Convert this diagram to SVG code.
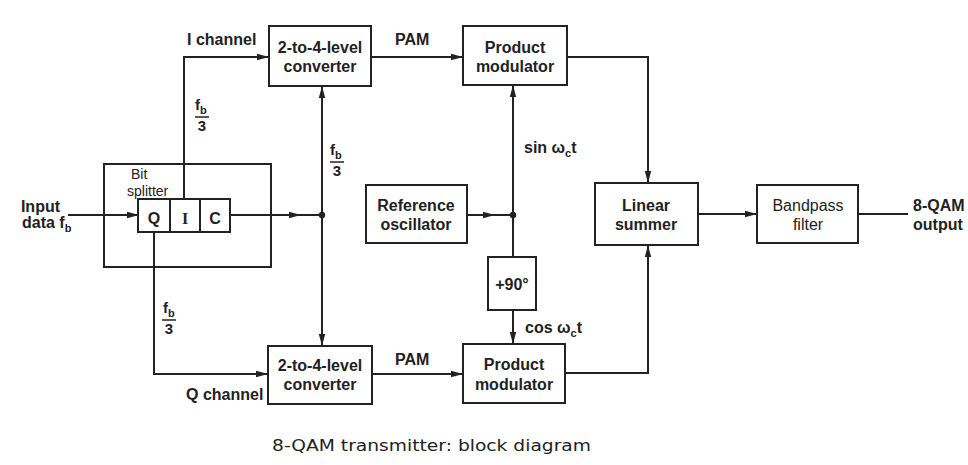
<svg xmlns="http://www.w3.org/2000/svg" width="968" height="465" viewBox="0 0 968 465">
<style>
.box{fill:none;stroke:#222;stroke-width:2}
.ln{fill:none;stroke:#222;stroke-width:2}
.t{font-family:"Liberation Sans",Arial,sans-serif;font-size:16px;font-weight:bold;fill:#222}
.r{font-family:"Liberation Sans",Arial,sans-serif;font-size:16px;fill:#222}
.c{text-anchor:middle}
.sub{font-size:11px}
.dot{fill:#222}
</style>
<defs>
<marker id="ah" viewBox="0 0 12 8" refX="11" refY="4" markerWidth="12" markerHeight="8" markerUnits="userSpaceOnUse" orient="auto">
<path d="M0,0.8 L12,4 L0,7.2 Z" fill="#222"/>
</marker>
</defs>
<rect width="968" height="465" fill="#fff"/>

<g id="connectors">
<line class="ln" x1="68" y1="215" x2="138" y2="215" marker-end="url(#ah)"/>
<polyline class="ln" points="184,199 184,57 268,57" marker-end="url(#ah)"/>
<polyline class="ln" points="154,232 154,374 267,374" marker-end="url(#ah)"/>
<line class="ln" x1="230" y1="215" x2="300" y2="215" marker-end="url(#ah)"/>
<line class="ln" x1="299" y1="215" x2="322" y2="215"/>
<line class="ln" x1="322" y1="215" x2="322" y2="87" marker-end="url(#ah)"/>
<line class="ln" x1="322" y1="215" x2="322" y2="345" marker-end="url(#ah)"/>
<line class="ln" x1="371" y1="57" x2="462" y2="57" marker-end="url(#ah)"/>
<line class="ln" x1="372" y1="374" x2="462" y2="374" marker-end="url(#ah)"/>
<line class="ln" x1="467" y1="215" x2="494" y2="215" marker-end="url(#ah)"/>
<line class="ln" x1="493" y1="215" x2="513" y2="215"/>
<line class="ln" x1="513" y1="215" x2="513" y2="86" marker-end="url(#ah)"/>
<line class="ln" x1="513" y1="215" x2="513" y2="257"/>
<line class="ln" x1="513" y1="310" x2="513" y2="343" marker-end="url(#ah)"/>
<polyline class="ln" points="567,57 648,57 648,182" marker-end="url(#ah)"/>
<polyline class="ln" points="565,373 648,373 648,246" marker-end="url(#ah)"/>
<line class="ln" x1="698" y1="214" x2="756" y2="214" marker-end="url(#ah)"/>
<line class="ln" x1="858" y1="214" x2="908" y2="214"/>
<circle class="dot" cx="322" cy="215" r="3.2"/>
<circle class="dot" cx="513" cy="215" r="3.2"/>
</g>

<g id="input-label">
<text class="t" x="60" y="212" text-anchor="end">Input</text>
<text class="t" x="22" y="228">data f<tspan class="sub" dy="4">b</tspan></text>
</g>

<g id="bit-splitter">
<rect class="box" x="104" y="164" width="167" height="103"/>
<text class="r" x="131" y="179" style="font-size:14px">Bit</text>
<text class="r" x="127" y="196" style="font-size:14px">splitter</text>
<rect class="box" x="138" y="199" width="92" height="33"/>
<line class="ln" x1="170" y1="199" x2="170" y2="232"/>
<line class="ln" x1="200" y1="199" x2="200" y2="232"/>
<text class="t c" x="154" y="224">Q</text>
<text class="c" x="185" y="224" style="font-family:'Liberation Serif',serif;font-size:16px;font-weight:bold;fill:#222">I</text>
<text class="t c" x="215" y="224">C</text>
</g>

<g id="labels">
<text class="t" x="187" y="45">I channel</text>
<text class="t" x="186" y="400">Q channel</text>
<text class="t" x="395" y="45">PAM</text>
<text class="t" x="395" y="365">PAM</text>
<text class="t" x="195" y="110" style="font-size:15px">f<tspan class="sub" dy="4">b</tspan></text>
<line class="ln" x1="195" y1="117" x2="209" y2="117" style="stroke-width:1.5"/>
<text class="t c" x="202" y="131" style="font-size:15px">3</text>
<text class="t" x="330" y="155" style="font-size:15px">f<tspan class="sub" dy="4">b</tspan></text>
<line class="ln" x1="330" y1="162" x2="344" y2="162" style="stroke-width:1.5"/>
<text class="t c" x="337" y="176" style="font-size:15px">3</text>
<text class="t" x="163" y="313" style="font-size:15px">f<tspan class="sub" dy="4">b</tspan></text>
<line class="ln" x1="162" y1="320" x2="176" y2="320" style="stroke-width:1.5"/>
<text class="t c" x="169" y="334" style="font-size:15px">3</text>
<text class="t" x="524" y="153">sin ω<tspan class="sub" dy="4">c</tspan><tspan dy="-4">t</tspan></text>
<text class="t" x="525" y="333">cos ω<tspan class="sub" dy="4">c</tspan><tspan dy="-4">t</tspan></text>
<text class="t" x="913" y="211">8-QAM</text>
<text class="t" x="913" y="230">output</text>
</g>

<g id="converter-i">
<rect class="box" x="269" y="26" width="102" height="60"/>
<text class="t c" x="320" y="53">2-to-4-level</text>
<text class="t c" x="320" y="72">converter</text>
</g>

<g id="converter-q">
<rect class="box" x="268" y="346" width="104" height="58"/>
<text class="t c" x="320" y="371">2-to-4-level</text>
<text class="t c" x="320" y="390">converter</text>
</g>

<g id="product-modulator-i">
<rect class="box" x="463" y="26" width="104" height="59"/>
<text class="t c" x="515" y="53">Product</text>
<text class="t c" x="515" y="72">modulator</text>
</g>

<g id="product-modulator-q">
<rect class="box" x="463" y="344" width="102" height="59"/>
<text class="t c" x="514" y="370">Product</text>
<text class="t c" x="514" y="390">modulator</text>
</g>

<g id="reference-oscillator">
<rect class="box" x="366" y="185" width="101" height="58"/>
<text class="t c" x="416" y="211">Reference</text>
<text class="t c" x="416" y="230">oscillator</text>
</g>

<g id="phase-shift">
<rect class="box" x="488" y="257" width="48" height="53"/>
<text class="t c" x="512" y="290">+90°</text>
</g>

<g id="linear-summer">
<rect class="box" x="595" y="183" width="103" height="62"/>
<text class="t c" x="646" y="211">Linear</text>
<text class="t c" x="646" y="230">summer</text>
</g>

<g id="bandpass-filter">
<rect class="box" x="757" y="185" width="101" height="58"/>
<text class="r c" x="808" y="211">Bandpass</text>
<text class="r c" x="808" y="230">filter</text>
</g>

<text x="272" y="451" textLength="319" lengthAdjust="spacingAndGlyphs" style="font-family:'DejaVu Sans',sans-serif;font-size:15px;fill:#222">8-QAM transmitter: block diagram</text>
</svg>
